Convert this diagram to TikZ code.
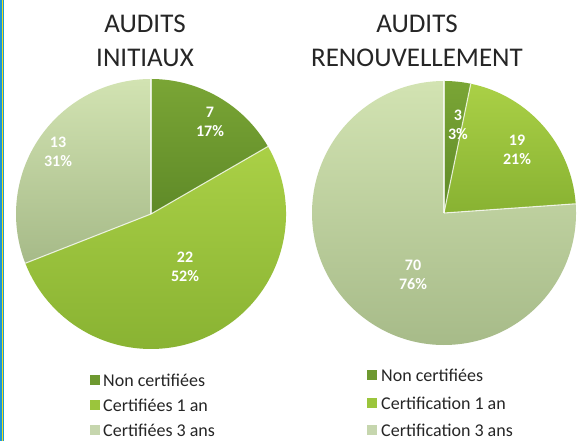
\documentclass[tikz,border=0pt]{standalone}
\usepackage{fontspec}
\setmainfont{Carlito}
\usetikzlibrary{calc}
\definecolor{darkA}{HTML}{7AA535}
\definecolor{darkB}{HTML}{5F8A28}
\definecolor{medA}{HTML}{AAD046}
\definecolor{medB}{HTML}{88B232}
\definecolor{lightA}{HTML}{D2E3B2}
\definecolor{lightB}{HTML}{A6BA88}
\definecolor{legdark}{HTML}{6E9930}
\definecolor{legmed}{HTML}{9BC53C}
\definecolor{leglight}{HTML}{C6D6AE}
\definecolor{edgeblue}{HTML}{1E96D6}
\definecolor{edgeyellow}{HTML}{F2E21A}
\definecolor{txt}{HTML}{262626}
\tikzset{
  slicedark/.style={top color=darkA, bottom color=darkB},
  slicemed/.style={top color=medA, bottom color=medB},
  slicelight/.style={top color=lightA, bottom color=lightB},
  sep/.style={white, opacity=0.75, line width=1.1pt},
  vallabel/.style={text=white, font=\fontsize{16}{19}\selectfont\bfseries, align=center},
  titlelabel/.style={text=txt, font=\fontsize{27}{34}\selectfont, align=center},
  legsq/.style={minimum size=10pt, inner sep=0pt},
  legtext/.style={text=txt, font=\fontsize{18}{20}\selectfont, anchor=west, inner sep=0pt}
}
\begin{document}
\begin{tikzpicture}[x=1pt,y=1pt]
\useasboundingbox (0,0) rectangle (580,441);
\fill[white] (0,0) rectangle (580,441);
% left edge stripes
\fill[edgeblue] (0,0) rectangle (1.6,441);
\fill[edgeyellow] (1.6,0) rectangle (3.4,441);
\fill[edgeblue] (3.4,0) rectangle (4.4,441);

% ---------- left pie ----------
\coordinate (cL) at (151,227);
\shade[slicedark] (cL) -- ++(90:135) arc[start angle=90, end angle=30, radius=135] -- cycle;
\shade[slicemed] (cL) -- ++(30:135) arc[start angle=30, end angle=-158.6, radius=135] -- cycle;
\shade[slicelight] (cL) -- ++(201.4:135) arc[start angle=201.4, end angle=90, radius=135] -- cycle;
\coordinate (cLa) at ($(cL)+(90:135)$);
\coordinate (cLb) at ($(cL)+(30:135)$);
\coordinate (cLc) at ($(cL)+(201.4:135)$);
\draw[sep] (cL) -- (cLa);
\draw[sep] (cL) -- (cLb);
\draw[sep] (cL) -- (cLc);

\node[vallabel] (lA) at (210,319) {7\\17\%};
\node[vallabel] (lB) at (185,174) {22\\52\%};
\node[vallabel] (lC) at (58,289) {13\\31\%};

% ---------- right pie ----------
\coordinate (cR) at (444,228);
\shade[slicedark] (cR) -- ++(90:132) arc[start angle=90, end angle=78.3, radius=132] -- cycle;
\shade[slicemed] (cR) -- ++(78.3:132) arc[start angle=78.3, end angle=4, radius=132] -- cycle;
\shade[slicelight] (cR) -- ++(4:132) arc[start angle=4, end angle=-270, radius=132] -- cycle;
\coordinate (cRa) at ($(cR)+(90:132)$);
\coordinate (cRb) at ($(cR)+(78.3:132)$);
\coordinate (cRc) at ($(cR)+(4:132)$);
\draw[sep] (cR) -- (cRa);
\draw[sep] (cR) -- (cRb);
\draw[sep] (cR) -- (cRc);

\node[vallabel] (rA) at (458,316) {3\\3\%};
\node[vallabel] (rB) at (517,291) {19\\21\%};
\node[vallabel] (rC) at (413,166) {70\\76\%};

% ---------- titles ----------
\node[titlelabel] (tL) at (145,400) {AUDITS\\INITIAUX};
\node[titlelabel] (tR) at (417,400) {AUDITS\\RENOUVELLEMENT};

% ---------- legends ----------
\node[legsq, fill=legdark] (qL1) at (94.5,61) {};
\node[legsq, fill=legmed] (qL2) at (94.5,36) {};
\node[legsq, fill=leglight] (qL3) at (94.5,11) {};
\node[legtext] (xL1) at (103,61) {Non certifiées};
\node[legtext] (xL2) at (103,36) {Certifiées 1 an};
\node[legtext] (xL3) at (103,11) {Certifiées 3 ans};

\node[legsq, fill=legdark] (qR1) at (372,66) {};
\node[legsq, fill=legmed] (qR2) at (372,38) {};
\node[legsq, fill=leglight] (qR3) at (372,11) {};
\node[legtext] (xR1) at (381,66) {Non certifiées};
\node[legtext] (xR2) at (381,38) {Certification 1 an};
\node[legtext] (xR3) at (381,11) {Certification 3 ans};
\end{tikzpicture}
\end{document}
